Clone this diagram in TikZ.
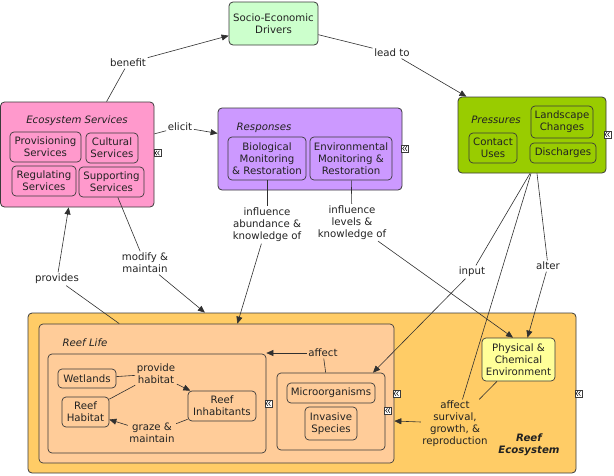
\documentclass[tikz,border=0pt]{standalone}
\usepackage{fontspec}
\setmainfont{DejaVu Sans}
\usetikzlibrary{arrows.meta,calc}
\definecolor{socioC}{HTML}{CCFFCC}
\definecolor{esC}{HTML}{FF99CC}
\definecolor{respC}{HTML}{CC99FF}
\definecolor{pressC}{HTML}{99CC00}
\definecolor{reefC}{HTML}{FFCC66}
\definecolor{lifeC}{HTML}{FFCC99}
\definecolor{physC}{HTML}{FFFF99}
\definecolor{bordC}{HTML}{3A3A3A}
\definecolor{lineC}{HTML}{303030}
\definecolor{txtC}{HTML}{222222}
\newcommand\myicon[2]{%
  \node[icon] (#1) at (#2) {};
  \draw[line width=0.5pt, black] ([shift={(-0.6pt,-2.2pt)}]#1.center) -- ([shift={(-2.4pt,0pt)}]#1.center) -- ([shift={(-0.6pt,2.2pt)}]#1.center);
  \draw[line width=0.5pt, black] ([shift={(1.9pt,-2.2pt)}]#1.center) -- ([shift={(0.1pt,0pt)}]#1.center) -- ([shift={(1.9pt,2.2pt)}]#1.center);
}
\begin{document}
\begin{tikzpicture}[x=1pt,y=-1pt,
  font=\fontsize{10.2}{12}\selectfont,
  cbox/.style={draw=bordC, line width=0.8pt, rounded corners=4pt, inner sep=0pt, align=center, text=txtC},
  ibox/.style={draw=bordC, line width=0.7pt, rounded corners=4pt, inner sep=0pt, align=center, text=txtC},
  ttl/.style={inner sep=0pt, text=txtC, font=\fontsize{10.2}{12}\selectfont\itshape},
  lbl/.style={inner sep=1.5pt, align=center, text=txtC},
  conn/.style={draw=lineC, line width=0.6pt},
  arr/.style={conn, -{Triangle[length=7pt,width=6pt]}},
  icon/.style={draw=bordC, fill=white, line width=0.5pt, minimum size=7pt, inner sep=0pt}
]
\useasboundingbox (0,0) rectangle (614,475);

% ---- top nodes
\node[cbox, fill=socioC, minimum width=89pt, minimum height=43pt] (socio) at (273.5,23.5) {Socio-Economic\\Drivers};

% Ecosystem services
\node[cbox, fill=esC, minimum width=153.5pt, minimum height=105pt] (es) at (77.25,154.5) {};
\node[ttl] (esT) at (77,121) {Ecosystem Services};
\node[ibox, fill=esC, minimum width=71pt, minimum height=30pt] (prov) at (45.5,147) {Provisioning\\Services};
\node[ibox, fill=esC, minimum width=52pt, minimum height=30pt] (cult) at (112,148) {Cultural\\Services};
\node[ibox, fill=esC, minimum width=64pt, minimum height=30pt] (reg) at (44,181) {Regulating\\Services};
\node[ibox, fill=esC, minimum width=65pt, minimum height=30pt] (supp) at (111.5,182) {Supporting\\Services};
\myicon{esI}{157.5,153}

% Responses
\node[cbox, fill=respC, minimum width=184pt, minimum height=82pt] (resp) at (310,149) {};
\node[ttl] (respT) at (264,128) {Responses};
\node[ibox, fill=respC, minimum width=78pt, minimum height=43pt] (bio) at (267,158.5) {Biological\\Monitoring\\\& Restoration};
\node[ibox, fill=respC, minimum width=82pt, minimum height=43pt] (env) at (351,158.5) {Environmental\\Monitoring \&\\Restoration};
\myicon{respI}{405,148.5}

% Pressures
\node[cbox, fill=pressC, minimum width=148pt, minimum height=76pt] (press) at (532,135) {};
\node[ttl] (pressT) at (496,120) {Pressures};
\node[ibox, fill=pressC, minimum width=62pt, minimum height=32pt] (land) at (562,122) {Landscape\\Changes};
\node[ibox, fill=pressC, minimum width=48pt, minimum height=30pt] (contact) at (493,148) {Contact\\Uses};
\node[ibox, fill=pressC, minimum width=66pt, minimum height=20pt] (disch) at (563,153) {Discharges};
\myicon{pressI}{607.5,134.5}

% Reef ecosystem
\node[cbox, fill=reefC, minimum width=548pt, minimum height=160pt] (reef) at (302,393) {};
\node[inner sep=0pt, align=center, text=txtC, font=\fontsize{10.2}{12}\selectfont\bfseries\itshape] (reefT) at (529,445) {Reef\\Ecosystem};
\myicon{reefI}{578.5,393.5}

\node[ibox, fill=lifeC, minimum width=355pt, minimum height=139pt] (life) at (216.5,393.5) {};
\node[ttl] (lifeT) at (85,343) {Reef Life};
\myicon{lifeI}{396.5,393.5}

\node[ibox, fill=lifeC, minimum width=218pt, minimum height=99pt] (habg) at (157,403.5) {};
\myicon{habgI}{268.5,403.5}
\node[ibox, fill=lifeC, minimum width=58pt, minimum height=19pt] (wet) at (87,378.5) {Wetlands};
\node[ibox, fill=lifeC, minimum width=47pt, minimum height=30pt] (rhab) at (85.5,412) {Reef\\Habitat};
\node[ibox, fill=lifeC, minimum width=68pt, minimum height=30pt] (rinh) at (222,406) {Reef\\Inhabitants};

\node[ibox, fill=lifeC, minimum width=108pt, minimum height=77pt] (mg) at (331,411.5) {};
\myicon{mgI}{388,410.5}
\node[ibox, fill=lifeC, minimum width=88pt, minimum height=20pt] (micro) at (331,393) {Microorganisms};
\node[ibox, fill=lifeC, minimum width=52pt, minimum height=33pt] (inv) at (331,423.5) {Invasive\\Species};

\node[ibox, fill=physC, minimum width=73pt, minimum height=43pt] (phys) at (518.5,359.5) {Physical \&\\Chemical\\Environment};

% ---- labels
\node[lbl] (benefit) at (128,63) {benefit};
\node[lbl] (leadto) at (392,53) {lead to};
\node[lbl] (elicit) at (180,127) {elicit};
\node[lbl] (modify) at (145,263) {modify \&\\maintain};
\node[lbl] (provides) at (57,279) {provides};
\node[lbl] (inflA) at (267,225) {influence\\abundance \&\\knowledge of};
\node[lbl] (inflL) at (352,222.5) {influence\\levels \&\\knowledge of};
\node[lbl] (input) at (472,272) {input};
\node[lbl] (alter) at (548,266) {alter};
\node[lbl] (affect) at (323,353) {affect};
\node[lbl] (asgr) at (455,424) {affect\\survival,\\growth, \&\\reproduction};
\node[lbl] (provide) at (156,374) {provide\\habitat};
\node[lbl] (graze) at (152,433) {graze \&\\maintain};

% ---- connectors
\draw[conn] (es) -- (benefit);
\draw[arr] (benefit) -- (socio);
\draw[conn] (socio) -- (leadto);
\draw[arr] (leadto) -- (press);
\draw[conn] (es) -- (elicit);
\draw[arr] (elicit) -- (resp);
\draw[conn] (supp) -- (modify);
\draw[arr] (modify) -- (reef);
\draw[conn] (life) -- (provides);
\draw[arr] (provides) -- (es);
\draw[conn] (bio) -- (inflA);
\draw[arr] (inflA) -- (life);
\draw[conn] (env) -- (inflL);
\draw[arr] (inflL) -- ([xshift=-5.5pt]phys.north);
\draw[conn] ([xshift=-2pt]press.south) -- (input);
\draw[arr] (input) -- ([xshift=42pt]mg.north);
\draw[conn] ([xshift=-1pt]press.south) -- (asgr);
\draw[conn] ([xshift=5pt]press.south) -- (alter);
\draw[arr] (alter) -- ([xshift=9pt]phys.north);
\draw[conn] (phys) -- (asgr);
\draw[arr] ([yshift=2pt]asgr.west) -- ([yshift=-27.5pt]life.east);
\draw[conn] (mg) -- (affect);
\draw[arr] (affect) -- (affect -| habg.east);
\draw[conn] (wet) -- (provide);
\draw[conn] (rhab) -- (provide);
\draw[arr] (provide) -- (rinh);
\draw[conn] (rinh) -- (graze);
\draw[arr] (graze) -- (rhab);
\end{tikzpicture}
\end{document}
